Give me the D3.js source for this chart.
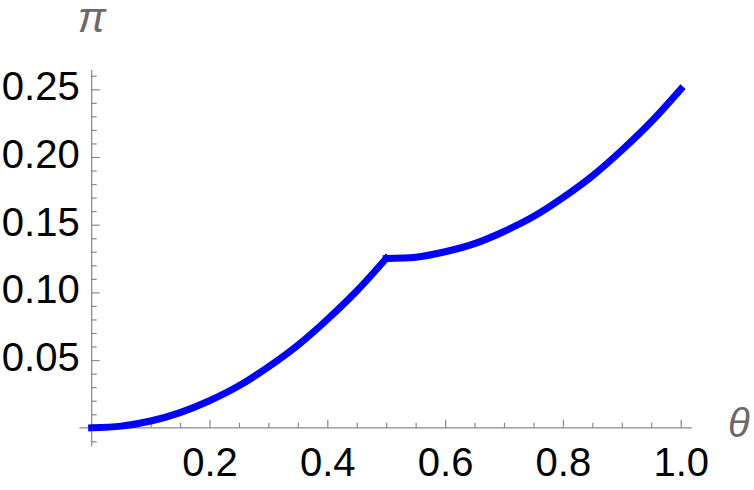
<!DOCTYPE html>
<html lang="en">
<head>
  <meta charset="utf-8">
  <script src="https://d3js.org/d3.v7.min.js"></script>
  <style>
    body { margin: 0; background: #fff; }
    svg { display: block; }
  </style>
</head>
<body>
  <svg width="754" height="490"></svg>
  <script>
    // values
    var thetaLow = [0, 0.05, 0.1, 0.15, 0.2, 0.25, 0.3, 0.35, 0.4, 0.45, 0.5];
    var piLow = [0, 0.00125, 0.005, 0.01125, 0.02, 0.031, 0.045, 0.061, 0.08, 0.101, 0.125];
    var thetaHigh = [0.5, 0.55, 0.6, 0.65, 0.7, 0.75, 0.8, 0.85, 0.9, 0.95, 1.0];
    var piHigh = [0.125, 0.126, 0.13, 0.136, 0.145, 0.156, 0.17, 0.186, 0.205, 0.226, 0.25];

    var xMajor = [0.2, 0.4, 0.6, 0.8, 1.0];
    var xMinor = [0.05, 0.1, 0.15, 0.25, 0.3, 0.35, 0.45, 0.5, 0.55, 0.65, 0.7, 0.75, 0.85, 0.9, 0.95];
    var yMajor = [0.05, 0.10, 0.15, 0.20, 0.25];
    var yMinor = [-0.01, 0.01, 0.02, 0.03, 0.04, 0.06, 0.07, 0.08, 0.09, 0.11, 0.12, 0.13, 0.14,
                  0.16, 0.17, 0.18, 0.19, 0.21, 0.22, 0.23, 0.24, 0.26];

    var svg = d3.select("svg");
    var axisColor = "#888";
    var font = "'Liberation Sans', Arial, sans-serif";

    var x = d3.scaleLinear().domain([0, 1]).range([91.7, 680.7]);
    var y = d3.scaleLinear().domain([0, 0.25]).range([427.8, 89.3]);

    // x axis: minor + major ticks pointing up, labels below
    var gx = svg.append("g").attr("transform", "translate(0," + y(0) + ")");
    gx.append("g").call(d3.axisTop(x).tickValues(xMinor).tickSize(5).tickFormat(""));
    gx.append("g").call(d3.axisTop(x).tickValues(xMajor).tickSize(8).tickFormat(""));
    gx.selectAll("path.domain").remove();
    gx.append("line")
      .attr("x1", x(-0.021)).attr("x2", x(1.019))
      .attr("stroke", axisColor).attr("stroke-width", 1.2);
    var gxl = svg.append("g").attr("transform", "translate(0," + y(0) + ")")
      .call(d3.axisBottom(x).tickValues(xMajor).tickSize(0).tickFormat(d3.format(".1f")));
    gxl.select("path.domain").remove();
    gxl.selectAll("text").attr("y", 48.5).attr("dy", null);

    // y axis: ticks pointing right, labels to the left
    var gy = svg.append("g").attr("transform", "translate(" + x(0) + ",0)");
    gy.append("g").call(d3.axisRight(y).tickValues(yMinor).tickSize(5).tickFormat(""));
    gy.append("g").call(d3.axisRight(y).tickValues(yMajor).tickSize(8).tickFormat(""));
    gy.selectAll("path.domain").remove();
    gy.append("line")
      .attr("y1", y(-0.0139)).attr("y2", y(0.2642))
      .attr("stroke", axisColor).attr("stroke-width", 1.2);
    var gyl = svg.append("g").attr("transform", "translate(" + x(0) + ",0)")
      .call(d3.axisLeft(y).tickValues(yMajor).tickSize(0).tickPadding(12).tickFormat(d3.format(".2f")));
    gyl.select("path.domain").remove();
    gyl.selectAll("text").attr("dy", null).attr("y", 10.5);

    svg.selectAll(".tick line").attr("stroke", axisColor).attr("stroke-width", 1.2);
    svg.selectAll(".tick text")
      .attr("fill", "#000")
      .style("font-family", font)
      .style("font-size", "40px");

    // axis labels
    svg.append("text").attr("x", x(0)).attr("y", 31.5)
      .attr("text-anchor", "middle")
      .style("font-family", font).style("font-size", "42px").style("font-style", "italic")
      .attr("fill", "#6a6a6a").text("π");
    svg.append("text").attr("x", 728).attr("y", 436.5)
      .style("font-family", font).style("font-size", "40px").style("font-style", "italic")
      .attr("fill", "#6a6a6a").text("θ");

    // curve
    var line = d3.line()
      .x(function (d) { return x(d[0]); })
      .y(function (d) { return y(d[1]); })
      .curve(d3.curveMonotoneX);
    var segments = [d3.zip(thetaLow, piLow), d3.zip(thetaHigh, piHigh)];
    svg.selectAll("path.curve").data(segments).enter().append("path")
      .attr("class", "curve")
      .attr("d", line)
      .attr("fill", "none")
      .attr("stroke", "#0000ff")
      .attr("stroke-width", 7)
      .attr("stroke-linecap", "square")
      .attr("stroke-linejoin", "round");
  </script>
</body>
</html>
